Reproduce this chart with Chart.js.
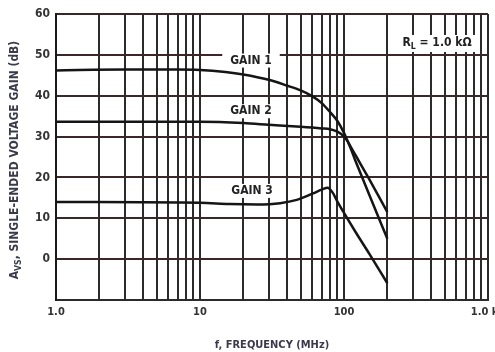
<!DOCTYPE html>
<html>
<head>
<meta charset="utf-8">
<script src="https://cdn.jsdelivr.net/npm/chart.js@4.4.1/dist/chart.umd.min.js"></script>
<style>
  html, body { margin: 0; padding: 0; background: #fff; overflow: hidden; }
</style>
</head>
<body>
<canvas id="gainChart" width="495" height="352"></canvas>
<script>
// values (MHz, dB)
const freq1 = [1, 3, 7, 10, 15, 20, 30, 40, 50, 60, 70, 80, 90, 100, 106, 120, 150, 200];
const gain1 = [46.2, 46.4, 46.4, 46.3, 45.8, 45.2, 43.9, 42.5, 41.3, 39.9, 38.2, 36.0, 33.8, 30.9, 28.9, 25.5, 19.5, 11.5];

const freq2 = [1, 10, 20, 30, 50, 70, 80, 90, 100, 106, 120, 150, 200];
const gain2 = [33.6, 33.6, 33.3, 32.9, 32.4, 32.0, 31.8, 31.2, 30.0, 28.8, 24.1, 15.7, 5.0];

const freq3 = [1, 10, 16, 25, 36, 47, 61, 70, 77, 83, 90, 100, 120, 150, 200];
const gain3 = [14.0, 13.8, 13.5, 13.4, 13.7, 14.5, 16.1, 17.0, 17.5, 16.4, 14.1, 11.3, 6.7, 1.3, -5.9];

const xGridValues = [1, 2, 3, 4, 5, 6, 7, 8, 9, 10, 20, 30, 40, 50, 60, 70, 80, 90,
                     100, 200, 300, 400, 500, 600, 700, 800, 900, 1000];
const xTickLabels = { 1: '1.0', 10: '10', 100: '100', 1000: '1.0 k\u00a0\u00a0' };

// curve labels: text + where they sit (freq, dB)
const curveLabels = [
  { text: 'GAIN 1', f: 22.6, db: 48.6 },
  { text: 'GAIN 2', f: 22.6, db: 36.2 },
  { text: 'GAIN 3', f: 23.0, db: 16.7 }
];

const pts = (xs, ys) => xs.map((x, i) => ({ x: x, y: ys[i] }));

const condensed = "'Liberation Sans Narrow', 'Arial Narrow', 'DejaVu Sans Condensed', 'Liberation Sans', sans-serif";

// draws "main" + lowered small "sub" + "rest"
function drawSub(ctx, x, y, main, sub, rest, size) {
  ctx.font = `bold ${size}px ${condensed}`;
  ctx.fillText(main, x, y);
  let w = ctx.measureText(main).width;
  ctx.font = `bold ${size * 0.72}px ${condensed}`;
  ctx.fillText(sub, x + w, y + size * 0.3);
  w += ctx.measureText(sub).width;
  ctx.font = `bold ${size}px ${condensed}`;
  ctx.fillText(rest, x + w, y);
}

function subWidth(ctx, main, sub, rest, size) {
  ctx.font = `bold ${size}px ${condensed}`;
  let w = ctx.measureText(main).width + ctx.measureText(rest).width;
  ctx.font = `bold ${size * 0.72}px ${condensed}`;
  return w + ctx.measureText(sub).width;
}

const annotations = {
  id: 'annotations',
  afterDraw(chart) {
    const ctx = chart.ctx;
    const xs = chart.scales.x, ys = chart.scales.y;
    ctx.save();
    ctx.textBaseline = 'middle';
    ctx.textAlign = 'left';

    curveLabels.forEach(l => {
      const cx = xs.getPixelForValue(l.f);
      const cy = ys.getPixelForValue(l.db);
      ctx.font = `bold 12px ${condensed}`;
      const w = ctx.measureText(l.text).width;
      ctx.fillStyle = '#fff';
      ctx.fillRect(cx - w / 2 - 8, cy - 7, w + 16, 14);
      ctx.fillStyle = '#222';
      ctx.fillText(l.text, cx - w / 2, cy);
    });

    // R_L note
    const rx = xs.getPixelForValue(443), ry = ys.getPixelForValue(52.9);
    const rw = subWidth(ctx, 'R', 'L', ' = 1.0 kΩ', 12);
    ctx.fillStyle = '#fff';
    ctx.fillRect(rx - rw / 2 - 4, ry - 8, rw + 8, 17);
    ctx.fillStyle = '#222';
    drawSub(ctx, rx - rw / 2, ry, 'R', 'L', ' = 1.0 kΩ', 12);

    // y axis title with subscript
    const ta = chart.chartArea;
    ctx.translate(15, (ta.top + ta.bottom) / 2 + 3);
    ctx.rotate(-Math.PI / 2);
    const tw = subWidth(ctx, 'A', 'VS', ', SINGLE-ENDED VOLTAGE GAIN (dB)', 12);
    ctx.fillStyle = '#3a3a4a';
    drawSub(ctx, -tw / 2, 0, 'A', 'VS', ', SINGLE-ENDED VOLTAGE GAIN (dB)', 12);
    ctx.restore();
  }
};

const lineStyle = {
  borderColor: '#151515',
  borderWidth: 2.5,
  pointRadius: 0,
  fill: false,
  cubicInterpolationMode: 'monotone'
};

new Chart(document.getElementById('gainChart'), {
  type: 'line',
  data: {
    datasets: [
      { label: 'GAIN 1', data: pts(freq1, gain1), ...lineStyle },
      { label: 'GAIN 2', data: pts(freq2, gain2), ...lineStyle },
      { label: 'GAIN 3', data: pts(freq3, gain3), ...lineStyle }
    ]
  },
  options: {
    responsive: false,
    animation: false,
    devicePixelRatio: 1,
    layout: { padding: { top: 14, right: 7, left: 0, bottom: 0 } },
    plugins: { legend: { display: false }, tooltip: { enabled: false } },
    scales: {
      x: {
        type: 'logarithmic',
        min: 1,
        max: 1000,
        afterBuildTicks: s => { s.ticks = xGridValues.map(v => ({ value: v })); },
        afterFit: s => { s.height = 52; s.paddingLeft = 0; s.paddingRight = 0; },
        grid: { color: '#2b2b2b', lineWidth: 2, drawTicks: false },
        border: { color: '#2b2b2b', width: 2 },
        ticks: {
          autoSkip: false,
          maxRotation: 0,
          padding: 6,
          color: '#333',
          font: { family: condensed, size: 11, weight: 'bold' },
          callback: v => xTickLabels[v] || ''
        },
        title: {
          display: true,
          text: 'f, FREQUENCY (MHz)',
          color: '#3a3a4a',
          font: { family: condensed, size: 11, weight: 'bold' },
          padding: { top: 0, bottom: 0 }
        }
      },
      y: {
        min: -10,
        max: 60,
        afterFit: s => { s.width = 56; },
        grid: { color: '#3a2828', lineWidth: 2, drawTicks: false },
        border: { color: '#1a1a1a', width: 2 },
        ticks: {
          stepSize: 10,
          padding: 6,
          color: '#333',
          font: { family: condensed, size: 12, weight: 'bold' },
          callback: v => v === -10 ? '' : v
        }
      }
    }
  },
  plugins: [annotations]
});
</script>
</body>
</html>
